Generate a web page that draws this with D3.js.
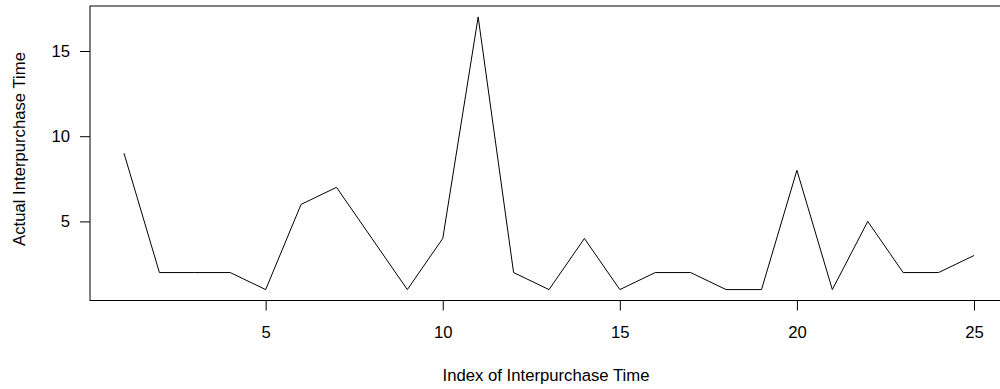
<!DOCTYPE html>
<html>
<head>
<meta charset="utf-8">
<script src="https://cdn.jsdelivr.net/npm/d3@7"></script>
<style>
  html, body { margin: 0; padding: 0; background: #fff; }
  svg { display: block; }
  text { font-family: "Liberation Sans", Arial, sans-serif; fill: #000; }
</style>
</head>
<body>
<script>
// Interpurchase times, indexed 1..n
const interpurchase = [9, 2, 2, 2, 1, 6, 7, 4, 1, 4, 17, 2, 1, 4, 1, 2, 2, 1, 1, 8, 1, 5, 2, 2, 3];
const xTicks = [5, 10, 15, 20, 25];
const yTicks = [5, 10, 15];
const xTitle = "Index of Interpurchase Time";
const yTitle = "Actual Interpurchase Time";

const W = 1000, H = 389;
const plot = { left: 90, right: 1008, top: 6, bottom: 300.5 };
const fontSize = 16.7;

const svg = d3.select("body").append("svg").attr("width", W).attr("height", H);

const index = interpurchase.map((_, i) => i + 1);
const n = interpurchase.length;
const xPad = (n - 1) * 0.04;
const yMin = d3.min(interpurchase), yMax = d3.max(interpurchase);
const yPad = (yMax - yMin) * 0.04;

const x = d3.scaleLinear().domain([1 - xPad, n + xPad]).range([plot.left, plot.right]);
const y = d3.scaleLinear().domain([yMin - yPad, yMax + yPad]).range([plot.bottom, plot.top]);

// frame
svg.append("rect")
  .attr("x", plot.left).attr("y", plot.top)
  .attr("width", plot.right - plot.left).attr("height", plot.bottom - plot.top)
  .attr("fill", "none").attr("stroke", "#000").attr("stroke-width", 1);

// series line
const line = d3.line().x((d, i) => x(index[i])).y(d => y(d));
svg.append("path")
  .datum(interpurchase)
  .attr("d", line)
  .attr("fill", "none").attr("stroke", "#000").attr("stroke-width", 1);

// axes
const xAxis = d3.axisBottom(x).tickValues(xTicks).tickSize(10).tickPadding(15.5).tickSizeOuter(0);
const gx = svg.append("g").attr("transform", `translate(0,${plot.bottom})`).call(xAxis);
gx.select(".domain").remove();
gx.selectAll("text").attr("font-size", fontSize).attr("font-family", "Liberation Sans, Arial, sans-serif");

const yAxis = d3.axisLeft(y).tickValues(yTicks).tickSize(10).tickPadding(10).tickSizeOuter(0);
const gy = svg.append("g").attr("transform", `translate(${plot.left},0)`).call(yAxis);
gy.select(".domain").remove();
gy.selectAll("text").attr("font-size", fontSize).attr("font-family", "Liberation Sans, Arial, sans-serif");

// titles
svg.append("text")
  .attr("x", 546).attr("y", 381)
  .attr("text-anchor", "middle").attr("font-size", fontSize)
  .text(xTitle);

svg.append("text")
  .attr("transform", "translate(25,149) rotate(-90)")
  .attr("text-anchor", "middle").attr("font-size", fontSize)
  .text(yTitle);
</script>
</body>
</html>
